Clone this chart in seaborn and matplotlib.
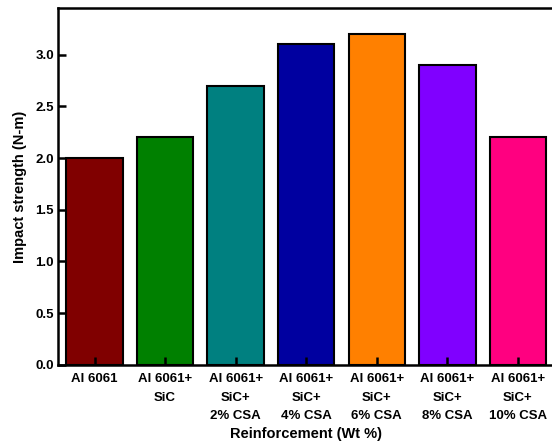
import seaborn as sns
import matplotlib.pyplot as plt
import pandas as pd

categories = ["Al 6061", "Al 6061+\nSiC", "Al 6061+\nSiC+\n2% CSA", "Al 6061+\nSiC+\n4% CSA",
              "Al 6061+\nSiC+\n6% CSA", "Al 6061+\nSiC+\n8% CSA", "Al 6061+\nSiC+\n10% CSA"]
impact = [2.0, 2.2, 2.7, 3.1, 3.2, 2.9, 2.2]
colors = ["#800000", "#008000", "#008080", "#0000A0", "#FF8000", "#8000FF", "#FF0080"]

df = pd.DataFrame({"cat": categories, "val": impact})

sns.set_style("white")
plt.rcParams['font.family'] = ['Liberation Sans', 'DejaVu Sans']
plt.rcParams['font.weight'] = 'bold'
plt.rcParams['text.color'] = 'black'
plt.rcParams['axes.labelcolor'] = 'black'
plt.rcParams['xtick.color'] = 'black'
plt.rcParams['ytick.color'] = 'black'

fig = plt.figure(figsize=(5.52, 4.45), dpi=100)
ax = fig.add_axes([0.105, 0.18, 0.897, 0.802])
sns.barplot(data=df, x="cat", y="val", hue="cat", palette=colors, legend=False,
            width=0.8, saturation=1, edgecolor="black", linewidth=1.5, ax=ax)
ax.set_axisbelow(False)

ax.set_xlim(-0.52, 6.5)
ax.set_ylim(0, 3.45)
ax.set_yticks([0.0, 0.5, 1.0, 1.5, 2.0, 2.5, 3.0])
ax.set_yticklabels([f"{v:.1f}" for v in [0.0, 0.5, 1.0, 1.5, 2.0, 2.5, 3.0]], fontsize=9.5, fontweight='bold')
ax.set_xticks(range(len(categories)))
ax.set_xticklabels(categories, fontsize=9.5, fontweight='bold', linespacing=1.7)
ax.tick_params(axis='both', direction='in', length=6, width=1.8, color='black',
               bottom=True, left=True, pad=3)
ax.tick_params(axis='x', pad=6)
for s in ax.spines.values():
    s.set_linewidth(1.8)
    s.set_color('black')

ax.set_xlabel("Reinforcement (Wt %)", fontsize=10.5, fontweight='bold', labelpad=4)
ax.set_ylabel("Impact strength (N-m)", fontsize=10.5, fontweight='bold', labelpad=6)

fig.savefig("out.png", dpi=100)
